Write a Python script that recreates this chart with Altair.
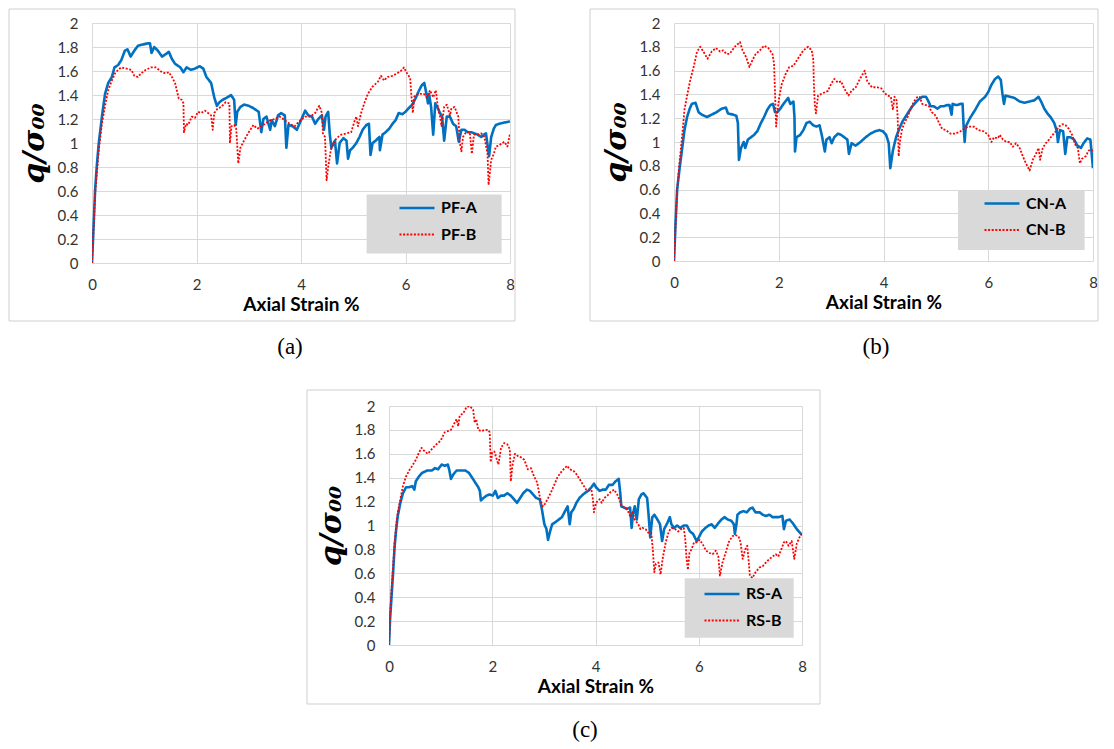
import altair as alt
import pandas as pd

# ---------------- data ----------------
# (strain %, q/sigma00) pairs
pf_a = [(0,0),(0.03,0.30),(0.06,0.61),(0.09,0.80),(0.13,1.00),(0.16,1.11),(0.19,1.22),(0.25,1.41),(0.31,1.50),(0.38,1.55),(0.43,1.63),(0.5,1.65),(0.56,1.69),(0.63,1.77),(0.68,1.78),(0.74,1.72),(0.81,1.77),(0.88,1.81),(0.97,1.82),(1.06,1.83),(1.11,1.83),(1.14,1.75),(1.19,1.80),(1.26,1.77),(1.34,1.72),(1.41,1.74),(1.47,1.76),(1.53,1.70),(1.59,1.66),(1.69,1.63),(1.75,1.59),(1.81,1.63),(1.89,1.61),(1.97,1.62),(2.06,1.64),(2.13,1.62),(2.19,1.55),(2.28,1.50),(2.34,1.38),(2.39,1.31),(2.44,1.34),(2.5,1.36),(2.59,1.38),(2.66,1.40),(2.72,1.36),(2.75,1.15),(2.78,1.26),(2.84,1.30),(2.91,1.32),(3.0,1.31),(3.09,1.29),(3.19,1.26),(3.24,1.09),(3.28,1.20),(3.34,1.22),(3.41,1.11),(3.44,1.19),(3.5,1.14),(3.56,1.23),(3.62,1.25),(3.69,1.23),(3.72,0.96),(3.76,1.15),(3.84,1.14),(3.92,1.11),(4.0,1.19),(4.08,1.27),(4.14,1.23),(4.21,1.22),(4.27,1.16),(4.33,1.20),(4.40,1.23),(4.44,1.11),(4.47,1.22),(4.52,1.26),(4.55,1.08),(4.58,0.96),(4.65,1.02),(4.69,0.83),(4.74,1.00),(4.81,1.04),(4.87,1.02),(4.90,0.87),(4.94,0.94),(4.99,0.96),(5.06,1.00),(5.12,1.05),(5.18,1.11),(5.25,1.15),(5.30,1.16),(5.33,0.90),(5.37,1.00),(5.43,1.02),(5.50,1.05),(5.51,0.94),(5.56,1.07),(5.62,1.09),(5.69,1.12),(5.75,1.16),(5.81,1.19),(5.87,1.25),(5.94,1.24),(6.0,1.26),(6.06,1.29),(6.13,1.32),(6.19,1.37),(6.25,1.43),(6.31,1.48),(6.36,1.50),(6.40,1.41),(6.43,1.33),(6.45,1.41),(6.49,1.30),(6.53,1.07),(6.57,1.33),(6.62,1.29),(6.66,1.25),(6.70,1.22),(6.74,1.02),(6.79,1.22),(6.85,1.22),(6.91,1.16),(6.97,1.14),(7.02,1.01),(7.07,1.11),(7.13,1.11),(7.19,1.09),(7.26,1.09),(7.32,1.08),(7.38,1.07),(7.45,1.05),(7.50,1.07),(7.54,1.08),(7.60,0.89),(7.64,1.05),(7.69,1.12),(7.73,1.15),(7.79,1.16),(7.89,1.17),(8.0,1.18)]

pf_b = [(0,0),(0.06,0.58),(0.13,0.94),(0.19,1.16),(0.25,1.31),(0.31,1.44),(0.38,1.52),(0.44,1.58),(0.5,1.61),(0.56,1.63),(0.66,1.62),(0.75,1.61),(0.81,1.56),(0.88,1.55),(0.94,1.58),(1.03,1.61),(1.13,1.63),(1.22,1.63),(1.28,1.61),(1.34,1.59),(1.41,1.58),(1.47,1.59),(1.53,1.55),(1.59,1.50),(1.66,1.37),(1.72,1.36),(1.75,1.33),(1.76,1.09),(1.80,1.16),(1.84,1.15),(1.91,1.22),(1.97,1.21),(2.03,1.26),(2.09,1.25),(2.16,1.27),(2.22,1.25),(2.28,1.23),(2.31,1.11),(2.34,1.25),(2.41,1.29),(2.47,1.30),(2.56,1.34),(2.63,1.33),(2.64,1.00),(2.67,1.14),(2.72,1.15),(2.76,1.12),(2.80,0.83),(2.84,0.96),(2.91,1.02),(3.0,1.09),(3.09,1.15),(3.16,1.12),(3.22,1.13),(3.31,1.16),(3.41,1.19),(3.5,1.20),(3.59,1.22),(3.69,1.19),(3.78,1.16),(3.88,1.14),(3.92,1.16),(3.99,1.19),(4.08,1.22),(4.18,1.22),(4.27,1.25),(4.35,1.31),(4.40,1.25),(4.42,1.08),(4.46,1.05),(4.49,0.69),(4.52,0.80),(4.57,0.94),(4.62,1.00),(4.68,1.04),(4.77,1.07),(4.87,1.08),(4.96,1.09),(5.03,1.19),(5.06,1.22),(5.09,1.14),(5.15,1.25),(5.21,1.33),(5.28,1.41),(5.37,1.47),(5.47,1.51),(5.53,1.56),(5.59,1.52),(5.65,1.55),(5.75,1.56),(5.84,1.58),(5.94,1.61),(5.97,1.63),(6.03,1.58),(6.09,1.54),(6.11,1.41),(6.14,1.25),(6.17,1.39),(6.22,1.40),(6.28,1.41),(6.35,1.41),(6.41,1.38),(6.47,1.44),(6.53,1.38),(6.58,1.44),(6.62,1.30),(6.66,1.22),(6.69,1.14),(6.74,1.30),(6.79,1.32),(6.85,1.23),(6.88,1.29),(6.94,1.30),(7.01,1.22),(7.04,1.00),(7.07,0.93),(7.10,1.05),(7.16,1.09),(7.23,1.09),(7.27,0.91),(7.31,1.07),(7.38,1.07),(7.45,1.08),(7.51,1.05),(7.57,0.91),(7.59,0.65),(7.64,0.86),(7.69,0.91),(7.73,0.97),(7.79,0.98),(7.89,1.01),(7.95,0.97),(8.0,1.08)]

cn_a = [(0,0),(0.03,0.32),(0.06,0.60),(0.11,0.79),(0.16,0.96),(0.2,1.10),(0.25,1.21),(0.3,1.28),(0.34,1.32),(0.41,1.33),(0.47,1.25),(0.53,1.23),(0.63,1.21),(0.72,1.23),(0.81,1.25),(0.91,1.28),(0.99,1.29),(1.03,1.24),(1.13,1.23),(1.19,1.22),(1.22,1.16),(1.24,0.85),(1.28,0.95),(1.33,1.00),(1.36,0.95),(1.41,1.02),(1.47,1.04),(1.53,1.06),(1.59,1.09),(1.66,1.16),(1.72,1.21),(1.78,1.27),(1.84,1.31),(1.89,1.32),(1.93,1.25),(1.97,1.25),(2.03,1.28),(2.09,1.32),(2.18,1.37),(2.22,1.32),(2.28,1.34),(2.30,1.21),(2.31,0.92),(2.34,1.04),(2.41,1.06),(2.47,1.10),(2.53,1.16),(2.59,1.17),(2.66,1.14),(2.72,1.13),(2.78,1.14),(2.83,1.04),(2.88,0.92),(2.91,1.02),(2.97,1.04),(3.01,0.99),(3.06,1.04),(3.13,1.07),(3.19,1.06),(3.25,1.04),(3.31,1.02),(3.34,0.90),(3.39,0.99),(3.47,0.97),(3.56,1.00),(3.66,1.04),(3.75,1.07),(3.84,1.09),(3.92,1.10),(3.99,1.09),(4.05,1.06),(4.10,0.99),(4.13,0.78),(4.18,0.93),(4.24,1.04),(4.30,1.11),(4.36,1.17),(4.46,1.24),(4.55,1.30),(4.65,1.35),(4.74,1.38),(4.81,1.38),(4.86,1.34),(4.90,1.30),(4.96,1.30),(5.03,1.28),(5.09,1.30),(5.15,1.30),(5.21,1.31),(5.26,1.31),(5.30,1.23),(5.32,1.32),(5.40,1.31),(5.47,1.32),(5.51,1.32),(5.53,1.13),(5.55,1.00),(5.57,1.13),(5.65,1.20),(5.75,1.27),(5.84,1.34),(5.94,1.38),(6.0,1.42),(6.06,1.48),(6.13,1.53),(6.19,1.55),(6.24,1.52),(6.27,1.41),(6.30,1.32),(6.33,1.39),(6.41,1.38),(6.50,1.37),(6.60,1.34),(6.69,1.33),(6.79,1.34),(6.88,1.35),(6.96,1.38),(7.01,1.34),(7.07,1.28),(7.13,1.24),(7.19,1.21),(7.26,1.16),(7.31,1.09),(7.33,1.00),(7.37,1.10),(7.43,1.09),(7.47,0.90),(7.51,1.04),(7.57,1.04),(7.64,1.02),(7.70,0.97),(7.77,0.95),(7.82,0.99),(7.89,1.03),(7.95,1.02),(8.0,0.78)]

cn_b = [(0,0),(0.06,0.60),(0.11,0.85),(0.16,1.07),(0.2,1.27),(0.25,1.39),(0.31,1.52),(0.38,1.64),(0.44,1.76),(0.5,1.80),(0.56,1.76),(0.64,1.70),(0.72,1.76),(0.80,1.79),(0.88,1.76),(0.94,1.77),(1.0,1.74),(1.06,1.74),(1.16,1.80),(1.26,1.84),(1.31,1.77),(1.38,1.71),(1.44,1.63),(1.5,1.69),(1.56,1.74),(1.64,1.77),(1.72,1.81),(1.80,1.79),(1.88,1.74),(1.91,1.66),(1.94,1.27),(1.95,1.13),(1.97,1.24),(2.01,1.38),(2.06,1.49),(2.13,1.57),(2.2,1.63),(2.28,1.64),(2.38,1.71),(2.47,1.77),(2.56,1.80),(2.63,1.77),(2.66,1.69),(2.67,1.49),(2.69,1.31),(2.71,1.24),(2.75,1.39),(2.84,1.41),(2.94,1.43),(3.0,1.49),(3.06,1.53),(3.13,1.50),(3.19,1.51),(3.25,1.45),(3.33,1.39),(3.39,1.43),(3.47,1.46),(3.55,1.53),(3.64,1.60),(3.69,1.51),(3.78,1.46),(3.88,1.46),(3.96,1.45),(4.02,1.41),(4.08,1.39),(4.14,1.38),(4.18,1.27),(4.21,1.38),(4.25,1.35),(4.27,1.21),(4.29,0.88),(4.31,0.99),(4.35,1.10),(4.40,1.16),(4.46,1.21),(4.52,1.28),(4.58,1.34),(4.65,1.38),(4.69,1.38),(4.74,1.32),(4.81,1.31),(4.87,1.30),(4.92,1.25),(4.96,1.24),(5.01,1.21),(5.06,1.16),(5.12,1.11),(5.19,1.10),(5.28,1.07),(5.37,1.07),(5.47,1.09),(5.53,1.11),(5.62,1.13),(5.72,1.13),(5.81,1.10),(5.91,1.09),(6.0,1.06),(6.06,1.00),(6.11,1.04),(6.18,1.03),(6.22,1.06),(6.28,1.02),(6.35,1.00),(6.41,1.00),(6.47,0.96),(6.53,0.99),(6.60,0.95),(6.66,0.88),(6.72,0.82),(6.79,0.76),(6.85,0.85),(6.91,0.90),(6.96,0.95),(6.99,0.85),(7.04,0.95),(7.10,0.99),(7.16,1.02),(7.23,1.06),(7.29,1.09),(7.35,1.13),(7.42,1.15),(7.48,1.14),(7.54,1.11),(7.60,1.06),(7.67,0.97),(7.71,0.95),(7.75,0.82),(7.79,0.86),(7.86,0.88),(7.92,0.93),(8.0,0.93)]

rs_a = [(0,0),(0.02,0.21),(0.05,0.41),(0.08,0.61),(0.11,0.83),(0.14,0.97),(0.17,1.08),(0.22,1.19),(0.27,1.27),(0.33,1.32),(0.39,1.32),(0.45,1.33),(0.49,1.30),(0.52,1.37),(0.58,1.41),(0.64,1.44),(0.74,1.46),(0.83,1.46),(0.89,1.48),(0.95,1.47),(1.02,1.51),(1.08,1.50),(1.14,1.51),(1.17,1.46),(1.20,1.39),(1.25,1.43),(1.31,1.46),(1.39,1.46),(1.48,1.46),(1.55,1.44),(1.61,1.40),(1.67,1.36),(1.73,1.32),(1.76,1.29),(1.78,1.21),(1.83,1.23),(1.89,1.25),(1.95,1.26),(2.01,1.25),(2.06,1.29),(2.11,1.23),(2.17,1.25),(2.23,1.25),(2.29,1.27),(2.36,1.25),(2.42,1.22),(2.48,1.19),(2.54,1.23),(2.60,1.27),(2.67,1.30),(2.73,1.29),(2.79,1.26),(2.85,1.23),(2.92,1.22),(2.96,1.14),(3.01,1.01),(3.05,0.97),(3.08,0.88),(3.12,0.95),(3.16,1.01),(3.23,1.03),(3.29,1.05),(3.35,1.07),(3.41,1.12),(3.46,1.16),(3.50,1.01),(3.53,1.11),(3.58,1.14),(3.63,1.19),(3.69,1.23),(3.76,1.26),(3.82,1.28),(3.86,1.29),(3.92,1.32),(3.97,1.35),(4.01,1.32),(4.08,1.29),(4.14,1.30),(4.20,1.30),(4.26,1.34),(4.33,1.34),(4.39,1.37),(4.45,1.39),(4.48,1.27),(4.50,1.16),(4.55,1.15),(4.61,1.14),(4.67,1.15),(4.70,0.98),(4.73,1.11),(4.76,1.16),(4.80,1.05),(4.84,1.22),(4.89,1.26),(4.93,1.27),(5.0,1.23),(5.03,1.08),(5.06,0.90),(5.10,1.07),(5.14,1.09),(5.20,1.05),(5.25,1.01),(5.29,0.87),(5.33,0.97),(5.39,1.02),(5.44,1.07),(5.47,1.01),(5.52,0.98),(5.58,1.00),(5.64,0.98),(5.71,1.00),(5.77,1.00),(5.83,0.95),(5.89,0.93),(5.96,0.87),(6.0,0.90),(6.06,0.95),(6.13,0.98),(6.19,1.00),(6.25,1.01),(6.31,0.98),(6.38,1.02),(6.44,1.05),(6.50,1.07),(6.56,1.05),(6.63,1.04),(6.68,1.01),(6.70,0.93),(6.73,1.01),(6.75,1.09),(6.80,1.11),(6.87,1.12),(6.93,1.11),(6.99,1.14),(7.04,1.15),(7.10,1.11),(7.18,1.11),(7.24,1.09),(7.30,1.08),(7.37,1.09),(7.43,1.07),(7.49,1.07),(7.55,1.07),(7.62,1.08),(7.65,0.97),(7.69,1.04),(7.76,1.05),(7.82,1.02),(7.90,0.97),(8.0,0.92)]

rs_b = [(0,0),(0.02,0.24),(0.05,0.47),(0.08,0.66),(0.11,0.86),(0.14,1.00),(0.17,1.11),(0.22,1.22),(0.27,1.33),(0.33,1.41),(0.39,1.46),(0.45,1.50),(0.52,1.55),(0.58,1.61),(0.63,1.65),(0.69,1.62),(0.75,1.60),(0.83,1.64),(0.92,1.68),(1.0,1.71),(1.08,1.78),(1.14,1.79),(1.20,1.80),(1.26,1.85),(1.31,1.89),(1.34,1.83),(1.37,1.92),(1.44,1.94),(1.50,1.99),(1.56,2.0),(1.63,1.97),(1.66,1.86),(1.69,1.89),(1.73,1.80),(1.79,1.79),(1.86,1.80),(1.92,1.80),(1.95,1.78),(1.97,1.53),(2.0,1.61),(2.04,1.62),(2.09,1.55),(2.12,1.51),(2.17,1.65),(2.23,1.69),(2.29,1.68),(2.34,1.64),(2.36,1.37),(2.39,1.50),(2.44,1.60),(2.50,1.58),(2.56,1.57),(2.62,1.55),(2.69,1.47),(2.75,1.48),(2.81,1.41),(2.87,1.36),(2.93,1.22),(2.98,1.16),(3.02,1.18),(3.07,1.22),(3.13,1.27),(3.20,1.34),(3.26,1.40),(3.32,1.44),(3.38,1.47),(3.45,1.50),(3.50,1.47),(3.57,1.46),(3.63,1.43),(3.69,1.39),(3.76,1.34),(3.82,1.30),(3.86,1.30),(3.92,1.30),(3.95,1.22),(3.97,1.11),(4.01,1.19),(4.08,1.22),(4.12,1.19),(4.17,1.23),(4.23,1.25),(4.29,1.28),(4.36,1.30),(4.42,1.26),(4.47,1.21),(4.51,1.16),(4.58,1.15),(4.64,1.11),(4.68,1.07),(4.72,1.11),(4.76,1.05),(4.83,1.01),(4.87,0.97),(4.91,0.98),(4.97,0.97),(5.02,0.94),(5.08,0.94),(5.11,0.80),(5.14,0.61),(5.17,0.68),(5.22,0.69),(5.26,0.59),(5.30,0.72),(5.36,0.86),(5.42,0.95),(5.47,0.98),(5.54,0.97),(5.60,0.95),(5.66,0.97),(5.71,0.98),(5.74,0.88),(5.76,0.74),(5.79,0.63),(5.82,0.77),(5.86,0.80),(5.91,0.86),(5.96,0.86),(6.02,0.88),(6.08,0.84),(6.14,0.79),(6.21,0.77),(6.27,0.76),(6.33,0.79),(6.38,0.74),(6.41,0.58),(6.46,0.69),(6.52,0.77),(6.58,0.86),(6.65,0.91),(6.71,0.92),(6.77,0.91),(6.81,0.86),(6.85,0.72),(6.90,0.80),(6.94,0.83),(6.97,0.69),(6.99,0.58),(7.04,0.56),(7.10,0.61),(7.18,0.65),(7.24,0.66),(7.30,0.69),(7.37,0.72),(7.43,0.74),(7.49,0.76),(7.54,0.74),(7.59,0.79),(7.65,0.86),(7.69,0.87),(7.74,0.83),(7.80,0.87),(7.85,0.72),(7.90,0.85),(7.95,0.90),(8.0,0.93)]

x_ticks = [0, 2, 4, 6, 8]
y_ticks = [0, 0.2, 0.4, 0.6, 0.8, 1.0, 1.2, 1.4, 1.6, 1.8, 2.0]
x_title = "Axial Strain %"
y_title = "q/σ₀₀"

BLUE = "#0070C0"
RED = "#FF0000"
GRID = "#D9D9D9"
LABEL_FONT = "Lato"


def panel(name_a, data_a, name_b, data_b, w, h, box, leg_xy, border, caption, cap_dx):
    rows = []
    for name, data in ((name_a, data_a), (name_b, data_b)):
        for i, (s, q) in enumerate(data):
            rows.append({"strain": s, "q": q, "series": name, "idx": i})
    df = pd.DataFrame(rows)
    one = alt.Data(values=[{"k": 1}])
    dom = [name_a, name_b]
    leg = alt.Legend(
        orient="none", legendX=leg_xy[0], legendY=leg_xy[1], title=None,
        labelFont=LABEL_FONT, labelFontWeight="bold", labelFontSize=16, labelColor="black",
        symbolType="stroke", symbolSize=1225, rowPadding=0, labelOffset=5, padding=0,
    )
    frame = alt.Chart(one).mark_rect(fillOpacity=0, stroke="#CFCFCF", strokeWidth=1).encode(
        x=alt.value(border[0]), x2=alt.value(w + border[1]),
        y=alt.value(border[2]), y2=alt.value(h + border[3]))
    lines = alt.Chart(df).mark_line(clip=True, strokeJoin="round").encode(
        x=alt.X("strain:Q", scale=alt.Scale(domain=[0, 8], nice=False),
                axis=alt.Axis(values=x_ticks, title=x_title, format="~f")),
        y=alt.Y("q:Q", scale=alt.Scale(domain=[0, 2], nice=False),
                axis=alt.Axis(values=y_ticks, title=y_title, format="~f")),
        color=alt.Color("series:N", scale=alt.Scale(domain=dom, range=[BLUE, RED]), legend=leg),
        strokeDash=alt.StrokeDash("series:N", scale=alt.Scale(domain=dom, range=[[1, 0], [2, 1.6]]), legend=leg),
        strokeWidth=alt.StrokeWidth("series:N", scale=alt.Scale(domain=dom, range=[2.6, 1.8]), legend=leg),
        order="idx:Q",
    )
    legbox = alt.Chart(one).mark_rect(fill=GRID).encode(
        x=alt.value(box[0]), x2=alt.value(box[1]), y=alt.value(box[2]), y2=alt.value(box[3]))
    return alt.layer(frame, lines, legbox).properties(
        width=w, height=h,
        title=alt.TitleParams(caption, orient="bottom", font="Liberation Serif", fontSize=23,
                              fontWeight="normal", color="black", anchor="middle", frame="group",
                              dx=cap_dx, offset=14),
    )


pa = panel("PF-A", pf_a, "PF-B", pf_b, 418, 240, (274.6, 409.6, 171.6, 230.6), (306, 166),
           (-83, 5, -14, 58), "(a)", -11)
pb = panel("CN-A", cn_a, "CN-B", cn_b, 419, 238, (284, 410.6, 167, 227), (309, 161.5),
           (-84, 5, -14, 60), "(b)", -7.5)
pc = panel("RS-A", rs_a, "RS-B", rs_b, 413, 239, (295.7, 404.7, 172.3, 231.7), (314, 169),
           (-82, 18, -16, 59), "(c)", -10.5)

# blank spacer that pushes panel (c) to its horizontal place (white, invisible)
spacer = alt.Chart(alt.Data(values=[{"k": 1}])).mark_point(opacity=0).encode(
    x=alt.value(0), y=alt.value(0)
).properties(width=213, height=4, view=alt.ViewConfig(stroke="white", strokeWidth=0.01))

indep = dict(color="independent", strokeDash="independent", strokeWidth="independent")

top_row = alt.hconcat(pa, pb, spacing=73).resolve_scale(**indep).resolve_legend(**indep)
bottom_row = alt.hconcat(spacer, pc, spacing=0).resolve_scale(**indep).resolve_legend(**indep)

chart = alt.vconcat(
    top_row,
    bottom_row,
    spacing=30,
).resolve_scale(**indep).resolve_legend(**indep).properties(
    padding=0, background="white"
).configure_view(
    stroke=None
).configure_axis(
    domain=False, ticks=False, grid=True, gridColor=GRID, gridWidth=1, labelFlush=False,
    labelFont=LABEL_FONT, labelFontSize=15, labelColor="#333333",
).configure_axisX(
    labelPadding=14, titleFont=LABEL_FONT, titleFontWeight="bold", titleFontSize=19,
    titleColor="black", titlePadding=3,
).configure_axisY(
    labelPadding=14, titleFont="DejaVu Serif", titleFontWeight="bold", titleFontStyle="italic",
    titleFontSize=30, titleColor="black", titleBaseline="middle", titleX=-58,
)

chart.save("out.html", embed_options={"renderer": "svg", "actions": False})
